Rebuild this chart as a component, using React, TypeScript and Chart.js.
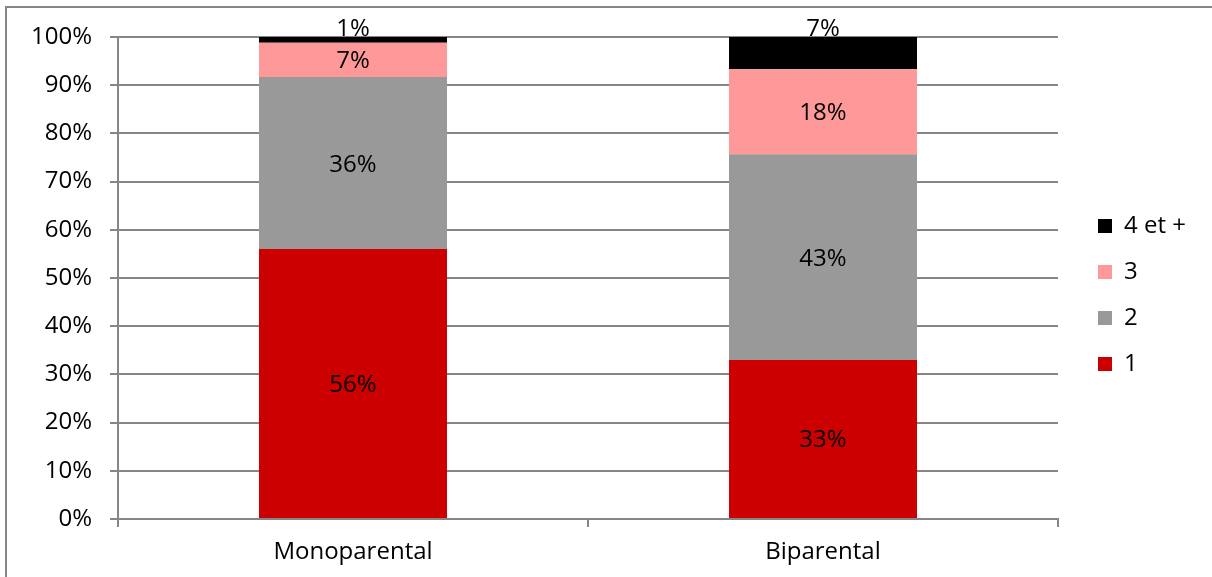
import React, { useEffect, useRef } from "react";
import { Chart, registerables } from "chart.js";

Chart.register(...registerables);

const categories = ["Monoparental", "Biparental"];
const seriesNames = ["1", "2", "3", "4 et +"];
const series1 = [56, 33];
const series2 = [35.7, 42.7];
const series3 = [7.1, 17.6];
const series4 = [1.2, 6.7];
const seriesColors = ["#CC0000", "#999999", "#FF9999", "#000000"];
const yTicks = [0, 10, 20, 30, 40, 50, 60, 70, 80, 90, 100];

const FONT = "'Open Sans', 'Noto Sans', sans-serif";
const LINE = "#868686";

const frame = {
  id: "frame",
  beforeDraw(chart: any) {
    const ctx = chart.ctx;
    ctx.save();
    ctx.fillStyle = "#ffffff";
    ctx.fillRect(0, 0, chart.width, chart.height);
    ctx.strokeStyle = LINE;
    ctx.lineWidth = 2;
    ctx.beginPath();
    ctx.moveTo(6, chart.height + 2);
    ctx.lineTo(6, 7);
    ctx.lineTo(chart.width + 2, 7);
    ctx.stroke();
    ctx.restore();
  },
};

const legendPlace = {
  id: "legendPlace",
  afterLayout(chart: any) {
    const lg = chart.legend;
    if (!lg) return;
    lg.left = 1076;
    lg.right = chart.width;
    lg.width = chart.width - 1076;
    lg.top = 0;
    lg.bottom = 590;
    lg.height = 590;
  },
};

const valueLabels = {
  id: "valueLabels",
  afterDatasetsDraw(chart: any) {
    const ctx = chart.ctx;
    ctx.save();
    ctx.font = `24px ${FONT}`;
    ctx.fillStyle = "#000000";
    ctx.textAlign = "center";
    ctx.textBaseline = "alphabetic";
    const last = chart.data.datasets.length - 1;
    chart.data.datasets.forEach((ds: any, i: number) => {
      const meta = chart.getDatasetMeta(i);
      meta.data.forEach((el: any, j: number) => {
        const { x, y, base } = el.getProps(["x", "y", "base"], true);
        const txt = Math.round(ds.data[j]) + "%";
        let ty;
        if (i === last) {
          ty = Math.min(y, base) - 1;
        } else {
          ty = (y + base) / 2 + 8.5;
        }
        ctx.fillText(txt, x, ty);
      });
    });
    ctx.restore();
  },
};

export default function App() {
  const ref = useRef<HTMLCanvasElement | null>(null);

  useEffect(() => {
    document.body.style.margin = "0";
    if (!ref.current) return;
    const values = [series1, series2, series3, series4];
    const chart = new Chart(ref.current, {
      type: "bar",
      data: {
        labels: categories,
        datasets: seriesNames.map((name, i) => ({
          label: name,
          data: values[i],
          backgroundColor: seriesColors[i],
          borderWidth: 0,
          barPercentage: 0.4,
          categoryPercentage: 1,
        })),
      },
      options: {
        responsive: false,
        animation: false,
        layout: { padding: { top: 37, left: 0, right: 54, bottom: 0 } },
        plugins: {
          tooltip: { enabled: false },
          legend: {
            position: "right",
            reverse: true,
            maxWidth: 100,
            labels: {
              boxWidth: 14,
              boxHeight: 14,
              padding: 22,
              color: "#000000",
              font: { family: FONT, size: 24 },
            },
          },
        },
        scales: {
          x: {
            stacked: true,
            grid: {
              drawOnChartArea: false,
              drawTicks: true,
              tickLength: 8,
              color: LINE,
              lineWidth: 2,
              offset: true,
            },
            border: { display: true, color: LINE, width: 2 },
            ticks: { color: "#000000", font: { family: FONT, size: 24 }, padding: 11 },
            afterFit(scale: any) {
              scale.height = 58;
            },
          },
          y: {
            stacked: true,
            min: 0,
            max: 100,
            afterBuildTicks(scale: any) {
              scale.ticks = yTicks.map((v) => ({ value: v }));
            },
            grid: { color: LINE, lineWidth: 2, tickLength: 8, drawTicks: true },
            border: { display: true, color: LINE, width: 2 },
            ticks: {
              color: "#000000",
              font: { family: FONT, size: 24 },
              padding: 18,
              callback: (v: any) => v + "%",
            },
            afterFit(scale: any) {
              scale.width = 118;
            },
          },
        },
      },
      plugins: [frame, legendPlace, valueLabels],
    });
    return () => chart.destroy();
  }, []);

  return (
    <div style={{ width: 1212, height: 577 }}>
      <canvas ref={ref} width={1212} height={577} style={{ display: "block" }} />
    </div>
  );
}
